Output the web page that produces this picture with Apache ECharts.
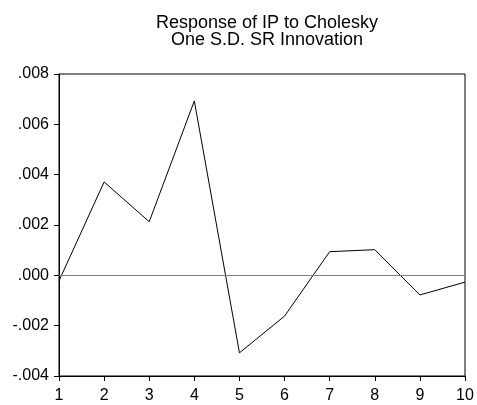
<!DOCTYPE html>
<html>
<head>
<meta charset="utf-8">
<script src="https://cdn.jsdelivr.net/npm/echarts@6/dist/echarts.min.js"></script>
<style>
html,body{margin:0;padding:0;background:#fff;}
#chart{width:477px;height:405px;}
</style>
</head>
<body>
<div id="chart"></div>
<script>
var titleLines = ['Response of IP to Cholesky', 'One S.D. SR Innovation'];
var periods = [1, 2, 3, 4, 5, 6, 7, 8, 9, 10];
var response = [-0.00022, 0.00371, 0.00213, 0.00693, -0.00308, -0.00162, 0.00094, 0.00102, -0.00078, -0.00027];
var yMin = -0.004, yMax = 0.008, yStep = 0.002;
var xMin = 1, xMax = 10, xStep = 1;

var chart = echarts.init(document.getElementById('chart'), null, {renderer: 'canvas'});
var font = 'Liberation Sans, Arial, sans-serif';
chart.setOption({
  animation: false,
  backgroundColor: '#fff',
  title: {
    text: titleLines.join('\n'),
    left: 262,
    textAlign: 'center',
    top: 10,
    textStyle: {fontFamily: font, fontSize: 18, fontWeight: 'normal', color: '#000', lineHeight: 17}
  },
  grid: {left: 59, right: 12, top: 74, bottom: 29, show: true, borderColor: '#000', borderWidth: 1, containLabel: false},
  xAxis: {
    type: 'value', min: xMin, max: xMax, interval: xStep,
    axisLine: {show: true, onZero: false, lineStyle: {color: '#000', width: 1}},
    axisTick: {show: true, inside: false, length: 5, lineStyle: {color: '#000'}},
    axisLabel: {color: '#000', fontFamily: font, fontSize: 16, margin: 12},
    splitLine: {show: false}
  },
  yAxis: {
    type: 'value', min: yMin, max: yMax, interval: yStep,
    axisLine: {show: true, onZero: false, lineStyle: {color: '#000', width: 1}},
    axisTick: {show: true, inside: false, length: 5, lineStyle: {color: '#000'}},
    axisLabel: {color: '#000', fontFamily: font, fontSize: 16, margin: 10,
      formatter: function (v) { var s = Math.abs(v).toFixed(3).replace(/^0/, ''); return (v < -1e-12 ? '-' : '') + s; }},
    splitLine: {show: false}
  },
  series: [{
    type: 'line',
    data: periods.map(function (p, i) { return [p, response[i]]; }),
    symbol: 'none',
    lineStyle: {color: '#000', width: 1},
    markLine: {
      silent: true, symbol: 'none', label: {show: false},
      lineStyle: {color: '#808080', width: 1, type: 'solid'},
      data: [{yAxis: 0}]
    }
  }]
});
</script>
</body>
</html>
